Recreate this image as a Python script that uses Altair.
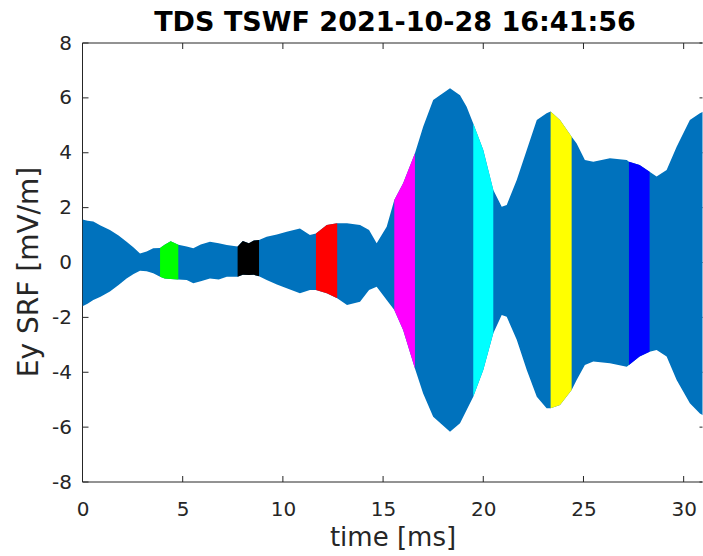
import altair as alt
import pandas as pd

# Envelope of the Ey waveform (max / min of the oscillation) along time
time_ms = [0.0, 0.25, 0.54, 0.9, 1.37, 1.8, 2.2, 2.55, 2.87, 3.2, 3.53,
           3.87, 4.1, 4.4, 4.78, 5.2, 5.53, 5.9, 6.36, 6.8, 7.2,
           7.74, 8.0, 8.3, 8.55, 8.81, 9.19, 9.7, 10.19, 10.85, 11.35,
           11.65, 12.19, 12.71, 13.2, 13.85, 14.3, 14.68, 15.18,
           15.56, 16.0, 16.59, 17.0, 17.5, 18.34, 18.84, 19.17,
           19.50, 20.0, 20.50, 20.92, 21.17, 21.67, 22.17, 22.67, 23.16,
           23.36, 23.83, 24.41, 24.66, 25.07, 25.49, 26.32, 27.16,
           27.27, 27.8, 28.30, 28.65, 29.15, 29.65, 30.31, 30.81, 31.25]
env_upper = [1.57, 1.52, 1.49, 1.35, 1.18, 0.98, 0.76, 0.55, 0.33, 0.40, 0.52,
             0.53, 0.65, 0.77, 0.65, 0.58, 0.52, 0.66, 0.76, 0.70, 0.64,
             0.58, 0.78, 0.70, 0.80, 0.82, 0.94, 1.02, 1.12, 1.24, 1.00,
             1.06, 1.37, 1.43, 1.43, 1.37, 1.18, 0.70, 1.30,
             2.28, 2.89, 3.98, 4.95, 5.92, 6.35, 6.10, 5.68,
             5.07, 4.10, 2.64, 2.03, 2.10, 3.01, 4.10, 5.19, 5.44,
             5.50, 5.19, 4.58, 4.34, 3.74, 3.67, 3.80, 3.74,
             3.67, 3.55, 3.31, 3.13, 3.37, 4.22, 5.19, 5.44, 5.60]
env_lower = [-1.59, -1.50, -1.37, -1.25, -1.06, -0.82, -0.58, -0.42, -0.30, -0.32, -0.39,
             -0.52, -0.58, -0.60, -0.62, -0.64, -0.76, -0.68, -0.58, -0.62, -0.52,
             -0.52, -0.45, -0.46, -0.45, -0.50, -0.64, -0.80, -0.94, -1.12, -1.00,
             -1.00, -1.12, -1.30, -1.55, -1.43, -1.00, -0.88, -1.37,
             -1.73, -2.46, -3.86, -4.77, -5.62, -6.17, -5.86, -5.38,
             -4.89, -3.92, -2.58, -1.91, -1.98, -2.82, -3.92, -4.89, -5.31,
             -5.31, -5.19, -4.65, -4.28, -3.74, -3.61, -3.67, -3.80,
             -3.74, -3.43, -3.25, -3.19, -3.43, -4.28, -5.13, -5.50, -5.70]

# Highlighted snapshot intervals
seg_names = ["snap1", "snap2", "snap3", "snap4", "snap5", "snap6", "snap7"]
seg_start = [3.87, 7.74, 11.65, 15.56, 19.50, 23.36, 27.27]
seg_end = [4.78, 8.81, 12.71, 16.59, 20.50, 24.41, 28.30]
seg_colors = ["#00FF00", "#000000", "#FF0000", "#FF00FF", "#00FFFF", "#FFFF00", "#0000FF"]

x_ticks = [0, 5, 10, 15, 20, 25, 30]
y_ticks = [-8, -6, -4, -2, 0, 2, 4, 6, 8]

W, H = 620, 439
X_MAX = 30.94
AX = "#262626"
FONT = "DejaVu Sans"
X_TITLE = "time [ms]"
Y_TITLE = "Ey SRF [mV/m]"

env = pd.DataFrame({"t": time_ms, "hi": env_upper, "lo": env_lower})
rows = []
for name, a, b in zip(seg_names, seg_start, seg_end):
    for t, hi, lo in zip(time_ms, env_upper, env_lower):
        if a - 1e-9 <= t <= b + 1e-9:
            rows.append({"t": t, "hi": hi, "lo": lo, "seg": name})
segs = pd.DataFrame(rows)

xs = alt.Scale(domain=[0, X_MAX], nice=False, zero=False)
ys = alt.Scale(domain=[-8, 8], nice=False, zero=False)

# plain ASCII hyphen for negative tick labels
PLAIN = "toString(datum.value)"

x_axis = alt.Axis(values=x_ticks, grid=False, domain=False, ticks=False,
                  tickSize=0, labelFont=FONT, labelFontSize=20, labelColor=AX,
                  labelPadding=17, labelExpr=PLAIN, labelFlush=False,
                  titleFont=FONT, titleFontSize=26, titleFontWeight="normal",
                  titleColor=AX, titleY=63, titleBaseline="alphabetic")
y_axis = alt.Axis(values=y_ticks, grid=False, domain=False, ticks=False,
                  tickSize=0, labelFont=FONT, labelFontSize=20, labelColor=AX,
                  labelPadding=11, labelExpr=PLAIN, labelFlush=False,
                  titleFont=FONT, titleFontSize=28, titleFontWeight="normal",
                  titleColor=AX, titleX=-45.5, titleY=228.5, titleAngle=270,
                  titleAlign="center", titleBaseline="alphabetic")


def xenc(field):
    return alt.X(field, scale=xs, axis=x_axis, title=X_TITLE)


def yenc(field):
    return alt.Y(field, scale=ys, axis=y_axis, title=Y_TITLE)


one = pd.DataFrame({"k": [0]})
xt = pd.DataFrame({"v": x_ticks})
yt = pd.DataFrame({"v": y_ticks})

frame_top = alt.Chart(one).mark_rule(color=AX, strokeWidth=1).encode(
    x=alt.value(0), x2=alt.value(W), y=alt.value(0))
frame_bottom = alt.Chart(one).mark_rule(color=AX, strokeWidth=1).encode(
    x=alt.value(0), x2=alt.value(W), y=alt.value(H))
frame_left = alt.Chart(one).mark_rule(color=AX, strokeWidth=1).encode(
    x=alt.value(0), y=alt.value(0), y2=alt.value(H))

tick_bottom = alt.Chart(xt).mark_rule(color=AX, strokeWidth=1).encode(
    x=xenc("v:Q"), y=alt.value(H), y2=alt.value(H - 6))
tick_top = alt.Chart(xt).mark_rule(color=AX, strokeWidth=1).encode(
    x=xenc("v:Q"), y=alt.value(0), y2=alt.value(6))
tick_left = alt.Chart(yt).mark_rule(color=AX, strokeWidth=1).encode(
    y=yenc("v:Q"), x=alt.value(0), x2=alt.value(6))
tick_right = alt.Chart(yt).mark_rule(color=AX, strokeWidth=1).encode(
    y=yenc("v:Q"), x=alt.value(W), x2=alt.value(W - 3))

wave = alt.Chart(env).mark_area(color="#0072BD", clip=True, opacity=1).encode(
    x=xenc("t:Q"),
    y=yenc("hi:Q"),
    y2="lo:Q",
)

snaps = alt.Chart(segs).mark_area(clip=True, opacity=1).encode(
    x=xenc("t:Q"),
    y=yenc("hi:Q"),
    y2="lo:Q",
    color=alt.Color("seg:N", scale=alt.Scale(domain=seg_names, range=seg_colors),
                    legend=None),
)

chart = alt.layer(
    frame_top, frame_bottom, frame_left,
    tick_bottom, tick_top, tick_left, tick_right,
    wave, snaps,
).properties(
    width=W,
    height=H,
    title=alt.TitleParams("TDS TSWF 2021-10-28 16:41:56", font=FONT, fontSize=27,
                          fontWeight="bold", color="#000000", offset=-4,
                          anchor="middle", dx=2.5),
    autosize=alt.AutoSizeParams(type="none"),
    padding={"left": 82.5, "top": 43, "right": 0.5, "bottom": 74},
).configure_view(stroke=None)

chart.save("out.html", embed_options={"renderer": "svg", "actions": False})
